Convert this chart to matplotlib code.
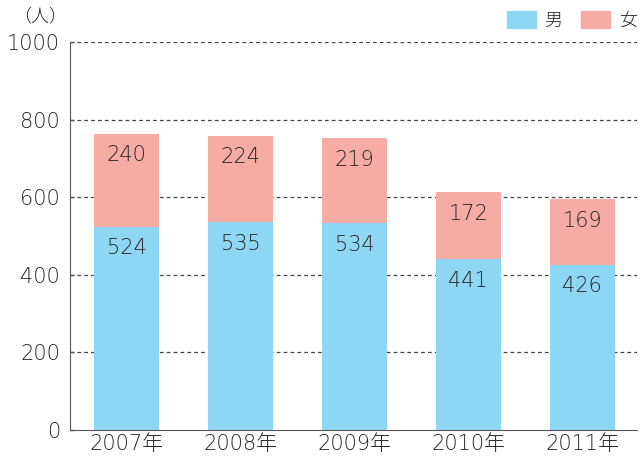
import matplotlib.pyplot as plt
import numpy as np
from matplotlib.patches import Patch

plt.rcParams['font.family'] = ['DejaVu Sans', 'Noto Sans CJK JP']
plt.rcParams['font.weight'] = 'light'

years = ['2007年', '2008年', '2009年', '2010年', '2011年']
male = [524, 535, 534, 441, 426]
female = [240, 224, 219, 172, 169]

blue = '#8dd7f5'
pink = '#f7aba5'
txt = '#262626'

fig = plt.figure(figsize=(6.4, 4.59), dpi=100)
ax = fig.add_axes([0.109, 0.063, 0.886, 0.8455])

x = np.arange(len(years))
ax.bar(x, male, width=0.57, color=blue, zorder=2)
ax.bar(x, female, width=0.57, bottom=male, color=pink, zorder=2)

for i in range(len(years)):
    ax.text(x[i], male[i] - 56, str(male[i]), ha='center', va='center',
            fontsize=15, color=txt, zorder=3)
    ax.text(x[i], male[i] + female[i] - 56, str(female[i]), ha='center',
            va='center', fontsize=15, color=txt, zorder=3)

ax.set_ylim(0, 1000)
ax.set_xlim(-0.5, 4.48)
ax.set_yticks(range(0, 1001, 200))
ax.set_xticks(x)
ax.set_xticklabels(years)
ax.tick_params(axis='y', direction='in', length=3, width=1, color='#555555',
               labelsize=15, labelcolor=txt, pad=7)
ax.tick_params(axis='x', length=0, labelsize=15, labelcolor=txt, pad=3)

for v in range(200, 1001, 200):
    ax.axhline(v, color='#444444', linestyle=(0, (3, 2.5)), linewidth=0.9, zorder=1)

ax.spines['top'].set_visible(False)
ax.spines['right'].set_visible(False)
ax.spines['left'].set_color('#555555')
ax.spines['bottom'].set_color('#555555')

fig.text(0.062, 0.962, '（人）', ha='center', va='center', fontsize=13,
         color=txt, family=['Noto Sans CJK JP'])

handles = [Patch(color=blue, label='男'), Patch(color=pink, label='女')]
fig.legend(handles=handles, loc='upper right', bbox_to_anchor=(1.02, 1.012), ncol=2,
           frameon=False, fontsize=13, handlelength=1.6, handleheight=1.1,
           columnspacing=1.0, handletextpad=0.5, labelcolor=txt)

fig.savefig('out.png', dpi=100)
